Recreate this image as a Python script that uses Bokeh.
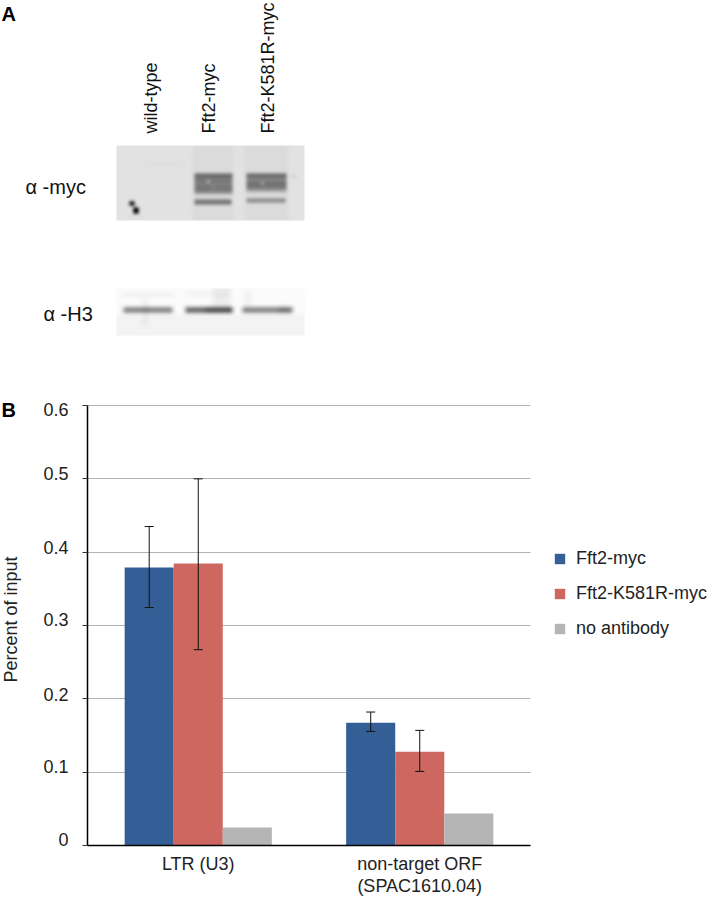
import numpy as np
from bokeh.embed import file_html
from bokeh.resources import INLINE
from bokeh.models import (ColumnDataSource, Range1d, Whisker, TeeHead, Legend, LegendItem, Grid,
                          FixedTicker, LabelSet, LinearAxis)
from bokeh.plotting import figure
from bokeh.core.properties import value

# ---- data, panel B
groups = ["LTR (U3)", "non-target ORF\n(SPAC1610.04)"]
series = ["Fft2-myc", "Fft2-K581R-myc", "no antibody"]
fft2_myc = [0.379, 0.1675]
fft2_k581r = [0.3845, 0.128]
no_antibody = [0.0245, 0.0436]
fft2_myc_low = [0.3245, 0.1555]
fft2_myc_high = [0.435, 0.182]
k581r_low = [0.267, 0.101]
k581r_high = [0.5, 0.157]
y_ticks = [0, 0.1, 0.2, 0.3, 0.4, 0.5, 0.6]
y_tick_labels = ["0", "0.1", "0.2", "0.3", "0.4", "0.5", "0.6"]

# ---- panel A labels
lanes = ["wild-type", "Fft2-myc", "Fft2-K581R-myc"]
blots = ["\u03b1 -myc", "\u03b1 -H3"]

FONT = "Liberation Sans"
BLUE, RED, GRAY = "#335f96", "#cd6760", "#b5b5b5"
W, H = 709, 898
tick_label_nudge = [6, 6, 4, 6, 5, 5, -4]
# where the chart's value axes lie on the page
X_LEFT, X_RIGHT, Y_BASE, Y_TOP = 87, 530, 845, 405
unit_x = (X_RIGHT - X_LEFT) / 2
unit_y = (Y_BASE - Y_TOP) / 0.6


def blur(img, n):
    k = np.ones(n) / n
    pad = n
    out = np.pad(img, pad, mode="edge")
    for _ in range(2):
        out = np.apply_along_axis(lambda r: np.convolve(r, k, mode="same"), 0, out)
        out = np.apply_along_axis(lambda r: np.convolve(r, k, mode="same"), 1, out)
    return out[pad:-pad, pad:-pad]


def paint(x0, y0, w, h, bg, strips, n=3):
    """Scan-like blot strip: strips are (x0, x1, y0, y1, darkening) in page pixels."""
    img = np.full((h, w), float(bg))
    for (a, b, c, d, v) in strips:
        img[c - y0:d - y0, a - x0:b - x0] -= v
    img = blur(img, n)
    g = np.clip(img, 0, 255).astype(np.uint8)
    rgba = np.dstack([g, g, g, np.full_like(g, 255)]).astype(np.uint8)
    return rgba.view(dtype=np.uint32).reshape(h, w)[::-1].copy()


myc_strips = [
    (192, 231, 145, 220, 7), (244, 286, 145, 220, 7),
    (145, 180, 162, 164, 5),
    (193, 231, 172, 176, 120), (193, 231, 176, 178, 85), (193, 231, 178, 181, 105),
    (193, 231, 181, 184, 85), (193, 231, 184, 187, 105), (193, 231, 187, 191, 95), (193, 231, 191, 193, 50),
    (193, 230, 198, 203, 105),
    (245, 285, 172, 176, 120), (245, 285, 176, 179, 80), (245, 285, 179, 182, 100),
    (245, 285, 182, 186, 105), (245, 285, 186, 189, 85), (245, 285, 189, 191, 30),
    (245, 284, 197, 201, 85),
    (128, 133, 200, 204, 240), (132, 137, 206, 212, 250),
    (291, 294, 174, 176, 40),
    (206, 208, 179, 181, -130), (211, 213, 185, 187, -60), (260, 262, 181, 183, -130),
]
h3_strips = [
    (116, 304, 315, 335, 8), (123, 173, 293, 295, 22), (185, 230, 292, 295, 10),
    (123, 172, 307, 312, 135), (185, 232, 307, 312, 170), (242, 292, 307, 312, 135),
    (142, 148, 298, 325, 10), (212, 230, 288, 307, 14), (245, 250, 290, 306, 10),
    (205, 232, 307, 312, 30), (278, 290, 307, 312, 25),
]
myc_img = paint(116, 145, 188, 75, 226, myc_strips, n=4)
h3_img = paint(116, 288, 188, 47, 251, h3_strips, n=5)

# The frame fills the page. Default scales carry the chart's values, "page" scales the page pixels.
p = figure(width=W, height=H, output_backend="svg", toolbar_location=None, min_border=0, outline_line_color=None,
           x_axis_location=None, y_axis_location=None,
           x_range=Range1d(-0.5 - X_LEFT / unit_x, -0.5 + (W - X_LEFT) / unit_x),
           y_range=Range1d(-(H - Y_BASE) / unit_y, Y_BASE / unit_y))
p.extra_x_ranges = {"page": Range1d(0, W)}
p.extra_y_ranges = {"page": Range1d(0, H)}
p.grid.visible = False

# ---- Panel A
page = dict(x_range_name="page", y_range_name="page")
p.image_rgba(image=[myc_img], x=116, y=H - 220, dw=188, dh=75, **page)
p.image_rgba(image=[h3_img], x=116, y=H - 335, dw=188, dh=47, **page)
p.text(x=[150, 208, 267], y=[H - 133] * 3, text=lanes, angle=np.pi / 2, text_align="left", text_baseline="middle",
       text_font=value(FONT), text_font_size="18px", text_color="#111111", **page)
p.text(x=[25, 43], y=[H - 186, H - 313], text=blots, text_align="left", text_baseline="middle",
       text_font=value(FONT), text_font_size="20px", text_color="#111111", **page)
p.text(x=[1, 1], y=[H - 13, H - 409], text=["A", "B"], text_align="left", text_baseline="middle",
       text_font=value(FONT), text_font_size="20px", text_font_style="bold", text_color="#000000", **page)
p.text(x=[10], y=[H - 619], text=["Percent of input"], angle=np.pi / 2, text_align="center", text_baseline="middle",
       text_font=value(FONT), text_font_size="18px", text_color="#222222", **page)

# ---- Panel B
pos = np.arange(len(groups))
w = 0.2215
src = ColumnDataSource(dict(x1=pos - w, x2=pos, x3=pos + w, a=fft2_myc, b=fft2_k581r, c=no_antibody,
                            al=fft2_myc_low, ah=fft2_myc_high, bl=k581r_low, bh=k581r_high))

grid = Grid(dimension=1, ticker=FixedTicker(ticks=y_ticks), cross_bounds=(-0.5, 1.5), bounds=(0, 0.6),
            grid_line_color="#b4b4b4", grid_line_width=1)
p.add_layout(grid)

r1 = p.vbar(x="x1", top="a", width=w, source=src, color=BLUE, line_color=None)
r2 = p.vbar(x="x2", top="b", width=w, source=src, color=RED, line_color=None)
r3 = p.vbar(x="x3", top="c", width=w, source=src, color=GRAY, line_color=None)

for base, lo, hi in (("x1", "al", "ah"), ("x2", "bl", "bh")):
    p.add_layout(Whisker(base=base, lower=lo, upper=hi, source=src, line_color="#111111", line_width=1,
                         upper_head=TeeHead(size=9, line_color="#111111", line_width=1),
                         lower_head=TeeHead(size=9, line_color="#111111", line_width=1), level="annotation"))

yaxis = LinearAxis(fixed_location=-0.5, bounds=(0, 0.6), ticker=FixedTicker(ticks=y_ticks),
                   axis_line_color="#000000", axis_line_width=1.5, major_tick_line_color="#333333",
                   major_tick_out=5, major_tick_in=0, minor_tick_line_color=None, major_label_text_color=None)
p.add_layout(yaxis, "left")
p.add_layout(LabelSet(x=-0.5, y="y", text="t", x_offset=-19, y_offset="n", text_align="right", text_baseline="middle",
                      source=ColumnDataSource(dict(y=y_ticks, t=y_tick_labels, n=tick_label_nudge)),
                      text_font=value(FONT), text_font_size="18px", text_color="#222222"))

xaxis = LinearAxis(fixed_location=0, bounds=(-0.5, 1.5), ticker=FixedTicker(ticks=list(pos.tolist())),
                   major_label_overrides=dict(zip(pos.tolist(), groups)),
                   axis_line_color="#000000", axis_line_width=1.5, major_tick_line_color=None,
                   minor_tick_line_color=None, major_label_standoff=2, major_label_text_font=FONT,
                   major_label_text_font_size="18px", major_label_text_color="#222222",
                   major_label_text_line_height=1.1, major_label_orientation="horizontal")
p.add_layout(xaxis, "below")

legend = Legend(items=[LegendItem(label=s, renderers=[r]) for s, r in zip(series, (r1, r2, r3))],
                location=(553, H - 639), glyph_width=13, glyph_height=13, label_width=10, label_height=13,
                label_standoff=10, spacing=14, padding=0, margin=0, border_line_color=None,
                background_fill_alpha=0, label_text_font=FONT, label_text_font_size="18px", label_text_color="#222222")
p.add_layout(legend)

open("out.html", "w").write(file_html(p, INLINE))
